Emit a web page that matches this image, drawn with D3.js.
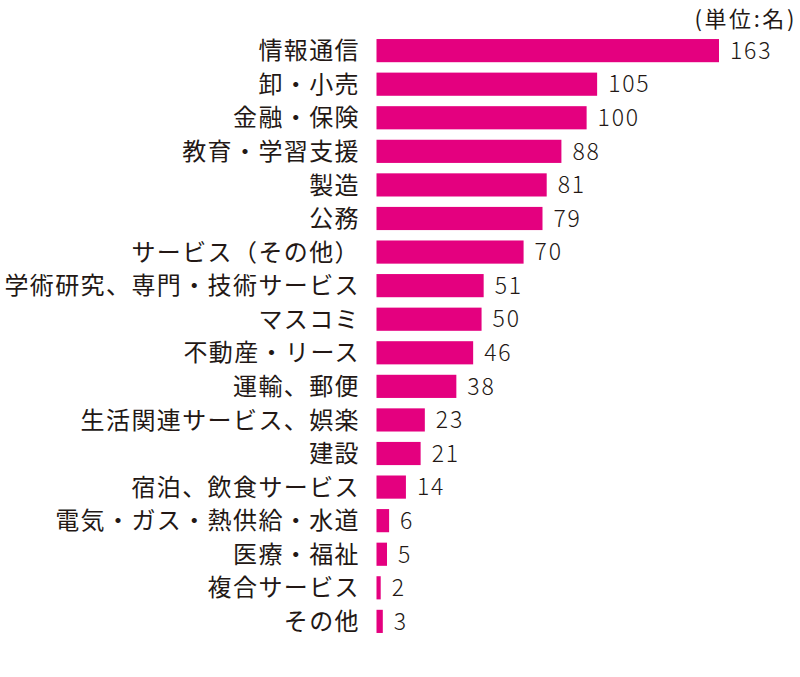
<!DOCTYPE html>
<html>
<head>
<meta charset="utf-8">
<script src="https://cdn.jsdelivr.net/npm/d3@7"></script>
<style>
  body { margin: 0; background: #fff; }
  text { font-family: "Noto Sans CJK JP", sans-serif; }
</style>
</head>
<body>
<div id="chart"></div>
<script>
const width = 800;
const height = 677;

const categories = [
  "情報通信", "卸・小売", "金融・保険", "教育・学習支援", "製造", "公務",
  "サービス（その他）", "学術研究、専門・技術サービス", "マスコミ", "不動産・リース",
  "運輸、郵便", "生活関連サービス、娯楽", "建設", "宿泊、飲食サービス",
  "電気・ガス・熱供給・水道", "医療・福祉", "複合サービス", "その他"
];
const values = [163, 105, 100, 88, 81, 79, 70, 51, 50, 46, 38, 23, 21, 14, 6, 5, 2, 3];
const unitLabel = "(単位:名)";

const svg = d3
  .select("#chart")
  .append("svg")
  .attr("width", width)
  .attr("height", height);

const x = d3.scaleLinear().domain([0, 163]).range([376.5, 719]);
const y = d3
  .scaleBand()
  .domain(categories)
  .range([34, 638])
  .paddingInner(0.31)
  .paddingOuter(0.15);

// bars
svg.selectAll("rect")
  .data(values)
  .enter()
  .append("rect")
  .attr("x", x(0))
  .attr("y", (d, i) => y(categories[i]))
  .attr("width", (d) => x(d) - x(0))
  .attr("height", y.bandwidth())
  .attr("fill", "#e4007f");

// category labels
svg.selectAll(".cat")
  .data(categories)
  .enter()
  .append("text")
  .attr("class", "cat")
  .attr("x", 360)
  .attr("y", (d) => y(d) + y.bandwidth() / 2)
  .attr("dy", "0.36em")
  .attr("text-anchor", "end")
  .attr("font-size", 24)
  .attr("letter-spacing", 1.4)
  .attr("fill", "#231815")
  .text((d) => d);

// value labels
svg.selectAll(".val")
  .data(values)
  .enter()
  .append("text")
  .attr("class", "val")
  .attr("x", (d) => x(d) + 11)
  .attr("y", (d, i) => y(categories[i]) + y.bandwidth() / 2)
  .attr("dy", "0.36em")
  .attr("font-size", 23)
  .attr("letter-spacing", 1.8)
  .attr("font-weight", 300)
  .attr("fill", "#231815")
  .text((d) => d);

// unit note, top right
svg.append("text")
  .attr("x", 797)
  .attr("y", 26.5)
  .attr("text-anchor", "end")
  .attr("font-size", 22)
  .attr("letter-spacing", 2.6)
  .attr("fill", "#231815")
  .text(unitLabel);
</script>
</body>
</html>
